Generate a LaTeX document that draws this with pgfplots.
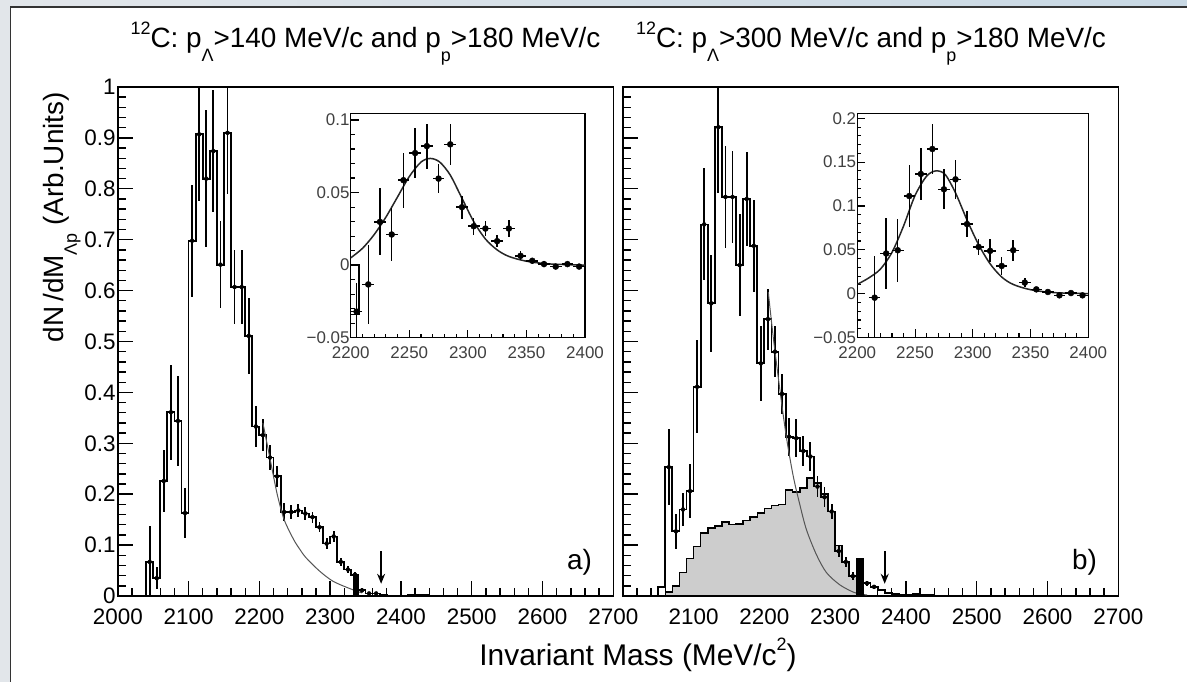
\documentclass[border=0pt]{standalone}
\usepackage{fontspec}
\setmainfont{Liberation Sans}
\usepackage{pgfplots}
\pgfplotsset{compat=1.18}
\usetikzlibrary{arrows.meta}
\newcommand\tsub[1]{\raisebox{-0.5em}{\fontsize{18}{18}\selectfont #1}}
\newcommand\tsup[1]{\raisebox{0.5em}{\fontsize{18}{18}\selectfont #1}}
\definecolor{chrome}{RGB}{226,230,234}
\definecolor{chromeb}{RGB}{200,216,228}
\definecolor{fitgray}{RGB}{85,85,85}
\definecolor{shade}{RGB}{205,205,205}
\pgfplotsset{
  mainax/.style={
    anchor=south west, scale only axis, width=495.5bp, height=509bp,
    xmin=2000, xmax=2700, ymin=0, ymax=1,
    axis line style={line width=1.6bp},
    tick pos=left, tick align=inside,
    xtick={2000,2100,2200,2300,2400,2500,2600,2700}, minor x tick num=4,
    ytick={0,0.1,0.2,0.3,0.4,0.5,0.6,0.7,0.8,0.9,1}, minor y tick num=4,
    major tick length=15bp, minor tick length=8bp,
    tick style={line width=1.4bp, black},
    tick label style={font=\fontsize{22.5}{24}\selectfont},
    xticklabel style={inner sep=0pt, anchor=north, yshift=-13bp},
    yticklabel style={inner sep=0pt, anchor=east, xshift=-2bp},
  },
  insetax/.style={
    anchor=south west, scale only axis,
    xmin=2200, xmax=2400, ymin=-0.05,
    axis background/.style={fill=white},
    axis line style={line width=1.4bp},
    tick pos=left, tick align=inside,
    xtick={2200,2250,2300,2350,2400}, minor x tick num=4,
    minor y tick num=4,
    major tick length=8bp, minor tick length=4bp,
    tick style={line width=1.1bp, black},
    tick label style={font=\fontsize{17}{18}\selectfont, black!75},
    xticklabels={2200,2250,2300,2350,2400},
    xticklabel style={inner sep=0pt, anchor=north, yshift=-9bp},
    yticklabel style={inner sep=0pt, anchor=east, xshift=-1bp},
  },
  hist/.style={const plot, black, line width=1.8bp, mark=none},
  errs/.style={only marks, mark=none, error bars/.cd, y dir=both, y explicit, error mark=none, error bar style={line width=1.8bp, draw=black}},
  pts/.style={only marks, mark=*, mark size=3bp, black, error bars/.cd, x dir=both, x explicit, y dir=both, y explicit, error mark=none, error bar style={line width=1.5bp, draw=black}},
}
\begin{document}
\begin{tikzpicture}
\useasboundingbox (0,0) rectangle (1187bp,682bp);
\fill[white] (0,0) rectangle (1187bp,682bp);
\fill[chrome] (0,0) rectangle (9.5bp,682bp);
\shade[left color=chrome, right color=chromeb] (0,675bp) rectangle (1187bp,682bp);
\draw[line width=1.5bp, black!80] (10.5bp,0) -- (10.5bp,675bp) -- (1187bp,675bp);

% ---------------- left panel ----------------
\begin{axis}[mainax, at={(117.8bp,86bp)},
  xticklabels={2000,2100,2200,2300,2400,2500,2600,2700},
  yticklabels={0,0.1,0.2,0.3,0.4,0.5,0.6,0.7,0.8,0.9,1}]
\addplot[hist] coordinates {(2000,0) (2040,0.067) (2050,0.035) (2060,0.226) (2070,0.361) (2080,0.344) (2090,0.163) (2100,0.698) (2110,0.907) (2120,0.820) (2130,0.874) (2140,0.651) (2150,0.910) (2160,0.607) (2170,0.607) (2180,0.511) (2190,0.333) (2200,0.316) (2210,0.272) (2220,0.235) (2230,0.165) (2240,0.165) (2250,0.168) (2260,0.162) (2270,0.155) (2280,0.135) (2290,0.103) (2300,0.117) (2310,0.067) (2320,0.052) (2330,0.042) (2340,0.011) (2350,0.005) (2360,0.005) (2370,0.003) (2380,0.001) (2390,0) (2410,0.003) (2420,0.003) (2430,0.002) (2440,0) (2700,0)};
\addplot[errs] coordinates {
 (2045,0.067) +- (0,0.07) (2055,0.035) +- (0,0.022) (2065,0.226) +- (0,0.06) (2075,0.361) +- (0,0.093)
 (2085,0.344) +- (0,0.088) (2095,0.163) +- (0,0.05) (2105,0.698) +- (0,0.11) (2115,0.907) +- (0,0.13)
 (2125,0.820) +- (0,0.135) (2135,0.874) +- (0,0.12) (2145,0.651) +- (0,0.085) (2155,0.910) +- (0,0.12)
 (2165,0.607) +- (0,0.072) (2175,0.607) +- (0,0.072) (2185,0.511) +- (0,0.074) (2195,0.333) +- (0,0.04)
 (2205,0.316) +- (0,0.032) (2215,0.272) +- (0,0.025) (2225,0.235) +- (0,0.02) (2235,0.165) +- (0,0.018)
 (2245,0.165) +- (0,0.014) (2255,0.168) +- (0,0.012) (2265,0.162) +- (0,0.012) (2275,0.155) +- (0,0.011)
 (2285,0.135) +- (0,0.01) (2295,0.103) +- (0,0.01) (2305,0.117) +- (0,0.01) (2315,0.067) +- (0,0.008)
 (2325,0.052) +- (0,0.007) (2335,0.042) +- (0,0.006) (2345,0.011) +- (0,0.004) (2355,0.005) +- (0,0.003)
 (2365,0.005) +- (0,0.003)};
\addplot[smooth, fitgray, line width=1bp] coordinates {(2205,0.34) (2210,0.305) (2215,0.27) (2220,0.235) (2226,0.195) (2235,0.15) (2248,0.112) (2257,0.092) (2266,0.075) (2285,0.049) (2304,0.029) (2327,0.015) (2345,0.006)};
\addplot[fill=black, draw=black] coordinates {(2333,0) (2333,0.04) (2340,0.04) (2340,0)} \closedcycle;
\addplot[-{Stealth[length=10bp,width=8bp]}, line width=1.8bp] coordinates {(2372,0.088) (2372,0.024)};
\end{axis}

% ---------------- right panel ----------------
\begin{axis}[mainax, at={(622.8bp,86bp)},
  xticklabels={,2100,2200,2300,2400,2500,2600,2700},
  yticklabels={}]
\addplot[const plot, fill=shade, draw=black, line width=1.5bp] coordinates {(2060,0) (2060,0.008) (2070,0.02) (2080,0.046) (2090,0.074) (2100,0.097) (2110,0.124) (2120,0.134) (2130,0.138) (2140,0.145) (2150,0.140) (2160,0.141) (2170,0.148) (2180,0.155) (2190,0.163) (2200,0.172) (2210,0.178) (2220,0.180) (2230,0.208) (2240,0.204) (2250,0.212) (2260,0.232) (2270,0.222) (2280,0.200) (2290,0.166) (2300,0.099) (2310,0.067) (2320,0.039) (2330,0.018) (2340,0)} \closedcycle;
\addplot[hist] coordinates {(2000,0) (2050,0.018) (2060,0.253) (2070,0.127) (2080,0.17) (2090,0.206) (2100,0.411) (2110,0.73) (2120,0.575) (2130,0.921) (2140,0.784) (2150,0.784) (2160,0.65) (2170,0.78) (2180,0.688) (2190,0.457) (2200,0.544) (2210,0.48) (2220,0.397) (2230,0.313) (2240,0.31) (2250,0.285) (2260,0.274) (2270,0.215) (2280,0.194) (2290,0.166) (2300,0.088) (2310,0.067) (2320,0.039) (2330,0.03) (2340,0.025) (2350,0.018) (2360,0.011) (2370,0.006) (2380,0.004) (2390,0.002) (2400,0.002) (2410,0.004) (2420,0.002) (2430,0.003) (2440,0.001) (2450,0) (2700,0)};
\addplot[errs] coordinates {
 (2065,0.253) +- (0,0.075) (2075,0.127) +- (0,0.035) (2085,0.17) +- (0,0.033) (2095,0.206) +- (0,0.053)
 (2105,0.411) +- (0,0.091) (2115,0.73) +- (0,0.11) (2125,0.575) +- (0,0.095) (2135,0.921) +- (0,0.13)
 (2145,0.784) +- (0,0.1) (2155,0.784) +- (0,0.09) (2165,0.65) +- (0,0.1) (2175,0.78) +- (0,0.093)
 (2185,0.688) +- (0,0.09) (2195,0.457) +- (0,0.074) (2205,0.544) +- (0,0.06) (2215,0.48) +- (0,0.05)
 (2225,0.397) +- (0,0.04) (2235,0.313) +- (0,0.037) (2245,0.31) +- (0,0.037) (2255,0.285) +- (0,0.03)
 (2265,0.274) +- (0,0.028) (2275,0.215) +- (0,0.02) (2285,0.194) +- (0,0.02) (2295,0.166) +- (0,0.015)
 (2305,0.088) +- (0,0.012) (2315,0.067) +- (0,0.01) (2325,0.039) +- (0,0.008) (2345,0.025) +- (0,0.005)
 (2355,0.018) +- (0,0.004)};
\addplot[smooth, fitgray, line width=1bp] coordinates {(2205.5,0.597) (2212.5,0.509) (2222,0.404) (2231,0.313) (2240.7,0.236) (2250,0.18) (2259.5,0.13) (2273.6,0.081) (2287.7,0.046) (2306.5,0.022) (2325,0.008) (2335,0.004) (2345,0.002)};
\addplot[fill=black, draw=black] coordinates {(2330,0) (2330,0.074) (2339,0.074) (2339,0)} \closedcycle;
\addplot[-{Stealth[length=10bp,width=8bp]}, line width=1.8bp] coordinates {(2370,0.088) (2370,0.024)};
\end{axis}

% ---------------- left inset ----------------
\begin{axis}[insetax, at={(350.7bp,344.3bp)}, width=234.3bp, height=224.4bp,
  ymax=0.1046, ytick={-0.05,0,0.05,0.1}, yticklabels={−0.05,0,0.05,0.1}]
\addplot[black, line width=1.4bp] coordinates {(2200,0) (2207,0) (2207,-0.034) (2200,-0.034)};
\addplot[smooth, black!85, line width=1.5bp] coordinates {(2200,0.005) (2210,0.0115) (2220,0.021) (2230,0.033) (2240,0.047) (2250,0.061) (2260,0.071) (2268,0.0735) (2276,0.071) (2285,0.062) (2295,0.046) (2305,0.03) (2315,0.018) (2325,0.0105) (2335,0.006) (2350,0.0027) (2370,0.0008) (2400,0)};
\addplot[pts] coordinates {
 (2205,-0.032) +- (5,0.02) (2215,-0.0133) +- (5,0.027) (2225,0.0298) +- (5,0.023) (2235,0.0211) +- (5,0.018)
 (2245,0.0585) +- (5,0.019) (2255,0.0772) +- (5,0.017) (2265,0.082) +- (5,0.0155) (2275,0.0596) +- (5,0.01)
 (2285,0.0832) +- (5,0.014) (2295,0.0399) +- (5,0.008) (2305,0.0268) +- (5,0.006) (2315,0.0252) +- (5,0.005)
 (2325,0.0165) +- (5,0.004) (2335,0.0252) +- (5,0.006) (2345,0.0064) +- (5,0.003) (2355,0.003) +- (5,0.002)
 (2365,0.0007) +- (5,0.002) (2375,-0.001) +- (5,0.001) (2385,0.0007) +- (5,0.001) (2395,-0.001) +- (5,0.001)};
\end{axis}

% ---------------- right inset ----------------
\begin{axis}[insetax, at={(857.3bp,344.5bp)}, width=231bp, height=224.2bp,
  ymax=0.2057, ytick={-0.05,0,0.05,0.1,0.15,0.2}, yticklabels={−0.05,0,0.05,0.1,0.15,0.2}]
\addplot[smooth, black!85, line width=1.5bp] coordinates {(2200,0.0106) (2210,0.018) (2220,0.028) (2230,0.047) (2240,0.077) (2250,0.112) (2260,0.134) (2268,0.140) (2276,0.136) (2285,0.115) (2295,0.084) (2305,0.056) (2315,0.034) (2325,0.019) (2335,0.0105) (2350,0.0045) (2370,0.0012) (2400,0)};
\addplot[pts] coordinates {
 (2215,-0.0046) +- (5,0.048) (2225,0.0458) +- (5,0.041) (2235,0.0495) +- (5,0.036) (2245,0.1113) +- (5,0.035)
 (2255,0.1365) +- (5,0.03) (2265,0.165) +- (5,0.028) (2275,0.119) +- (5,0.023) (2285,0.1304) +- (5,0.022)
 (2295,0.0793) +- (5,0.015) (2305,0.0533) +- (5,0.0095) (2315,0.0488) +- (5,0.013) (2325,0.0316) +- (5,0.01)
 (2335,0.0495) +- (5,0.012) (2345,0.0126) +- (5,0.005) (2355,0.0049) +- (5,0.003) (2365,0.0019) +- (5,0.002)
 (2375,-0.0019) +- (5,0.002) (2385,0.0007) +- (5,0.002) (2395,-0.0019) +- (5,0.002)};
\end{axis}

% ---------------- texts ----------------
\node[anchor=base, inner sep=0pt, font=\fontsize{28}{30}\selectfont] at (365.5bp,634bp) {\tsup{12}C: p\tsub{Λ}>140 MeV/c and p\tsub{p}>180 MeV/c};
\node[anchor=base, inner sep=0pt, font=\fontsize{28}{30}\selectfont] at (871bp,634bp) {\tsup{12}C: p\tsub{Λ}>300 MeV/c and p\tsub{p}>180 MeV/c};
\node[anchor=base, inner sep=0pt, font=\fontsize{30}{32}\selectfont] at (638bp,17bp) {Invariant Mass (MeV/c\tsup{2})};
\node[anchor=base east, rotate=90, inner sep=0pt, font=\fontsize{28}{30}\selectfont] at (63bp,590bp) {dN\,/dM\tsub{Λp} (Arb.Units)};
\node[anchor=base east, inner sep=0pt, font=\fontsize{28}{30}\selectfont] at (592bp,112bp) {a)};
\node[anchor=base east, inner sep=0pt, font=\fontsize{28}{30}\selectfont] at (1097bp,112bp) {b)};
\end{tikzpicture}
\end{document}
